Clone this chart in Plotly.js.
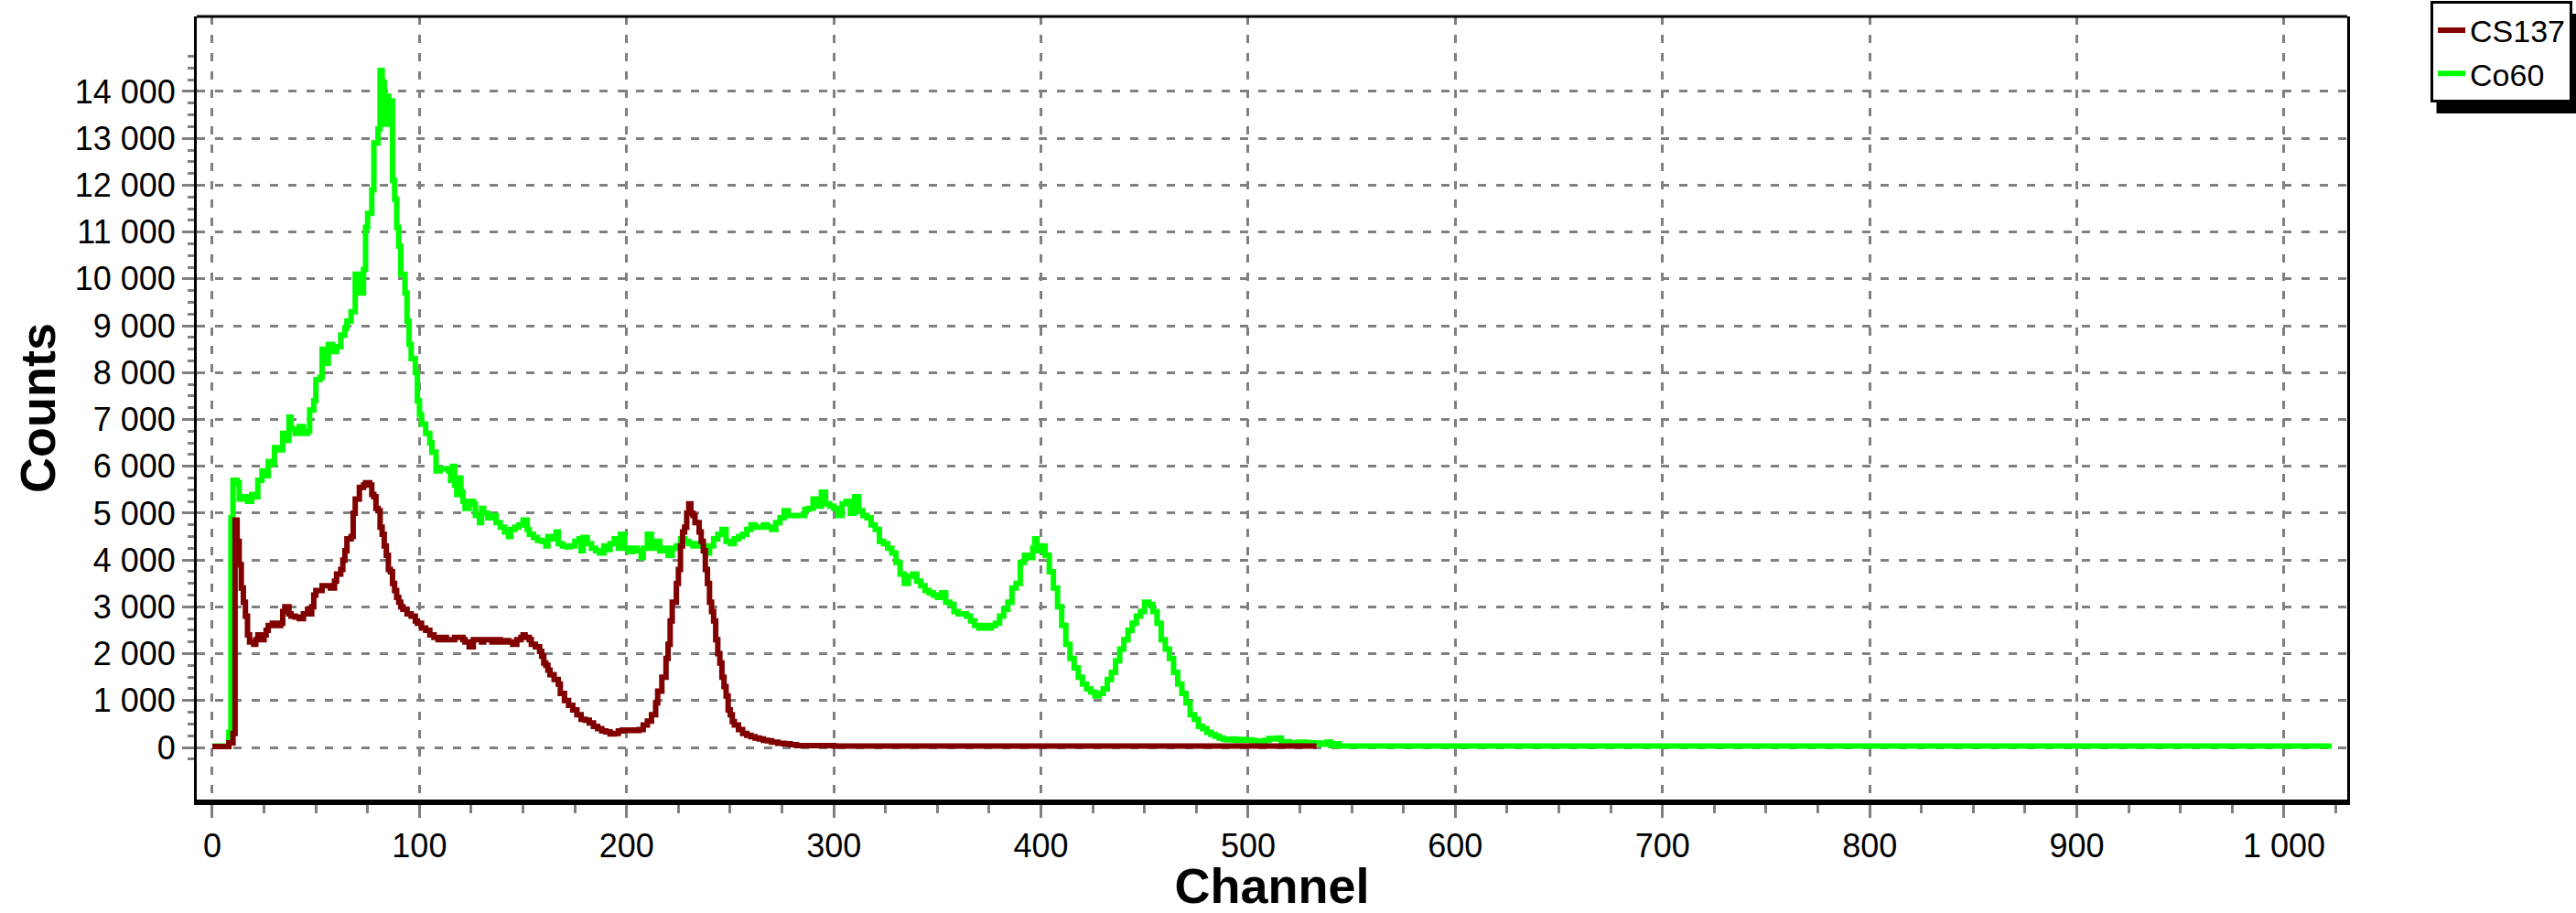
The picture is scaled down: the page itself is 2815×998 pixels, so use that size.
<!DOCTYPE html>
<html>
<head>
<meta charset="utf-8">
<script src="https://cdn.plot.ly/plotly-3.0.1.min.js"></script>
<style>html,body{margin:0;padding:0;background:#fff;}#chart{width:2815px;height:998px;}</style>
</head>
<body>
<div id="chart"></div>
<script>
// ---- Data (channel -> counts, histogram steps) ----
const co60Channels = [0,8,9,10,12,13,15,17,19,21,22,24,26,27,29,30,32,34,35,37,38,40,42,44,46,47,49,50,52,53,54,56,58,60,62,64,65,67,69,71,73,74,75,77,78,80,81,82,83,84,85,86,87,88,89,90,91,93,94,95,96,98,99,100,101,103,105,106,108,110,112,114,115,116,117,118,119,120,121,122,124,126,127,129,130,131,133,135,137,139,141,143,144,146,148,150,152,153,155,157,159,161,162,164,166,167,169,171,173,175,177,178,179,181,183,185,187,189,191,192,194,196,197,199,201,203,205,207,208,210,212,214,216,218,220,222,224,226,228,230,232,234,236,238,240,242,244,246,248,250,252,254,256,258,260,262,264,266,268,270,272,274,276,278,280,282,284,286,288,290,292,294,296,298,300,302,304,306,308,310,312,314,316,318,320,322,324,326,328,330,332,334,336,338,340,342,344,346,348,350,352,354,356,358,360,362,364,366,368,370,372,374,376,378,380,382,384,386,388,390,392,394,396,397,398,400,402,404,406,408,410,412,414,416,418,420,422,424,426,428,430,432,434,436,438,440,442,444,446,448,450,452,454,456,458,460,462,464,466,468,470,472,474,476,478,480,482,484,486,488,490,492,494,496,498,500,502,504,506,508,510,512,514,516,520,524,528,532,535,538,540,542,544,600,700,800,900,1000,1023];
const co60Counts = [30,320,4900,5700,5650,5300,5350,5250,5400,5350,5700,5900,5800,6100,6050,6400,6350,6700,6550,7050,6800,6700,6850,6700,6750,7200,7400,7850,7900,8500,8200,8600,8450,8550,8800,8950,9100,9300,10100,9700,10200,11100,11400,11900,12900,13200,14450,14200,13300,13900,13300,13800,12100,11700,11100,10700,10100,9700,9100,8600,8300,8000,7400,7100,6900,6700,6500,6300,5900,5950,5950,5900,5700,6000,5600,5400,5750,5450,5250,5100,5250,5200,4950,4800,5100,5000,4900,4950,4800,4700,4600,4500,4650,4700,4750,4850,4650,4550,4480,4420,4400,4300,4500,4450,4600,4350,4300,4280,4300,4400,4450,4200,4480,4350,4250,4200,4150,4300,4220,4350,4450,4250,4550,4250,4180,4250,4200,4050,4250,4550,4250,4400,4200,4250,4100,4250,4300,4450,4400,4350,4300,4350,4300,4150,4300,4450,4550,4650,4400,4350,4450,4500,4550,4650,4750,4700,4700,4750,4700,4650,4800,4900,5050,4950,4950,4950,4950,5080,5100,5300,5150,5450,5200,5150,5100,4950,5200,5250,5000,5350,5050,4950,4900,4750,4650,4400,4350,4250,4150,3950,3700,3500,3650,3700,3550,3450,3350,3300,3250,3200,3300,3100,3050,2900,2850,2850,2800,2700,2600,2550,2600,2550,2600,2650,2800,2950,3100,3400,3500,3950,4100,4050,4250,4450,4200,4300,4100,3750,3400,3000,2600,2200,1900,1700,1500,1350,1250,1180,1100,1150,1250,1450,1600,1850,2100,2300,2500,2650,2800,2900,3100,3050,2900,2650,2300,2100,1900,1600,1350,1150,950,700,600,450,400,320,280,240,200,170,160,180,150,170,150,160,140,130,80,150,190,180,200,120,100,110,100,95,70,110,40,80,30,30,28,28,28,28,28];

const cs137Channels = [0,8,10,11,12,13,14,15,16,17,18,20,21,22,24,25,26,27,29,31,33,34,35,37,38,40,42,44,46,47,48,49,50,52,53,55,57,59,60,62,63,64,65,67,68,69,71,73,74,76,77,78,79,80,81,82,83,84,85,86,87,88,89,90,91,92,94,96,98,99,101,103,105,107,109,111,113,115,117,119,121,122,124,126,128,130,131,133,135,137,139,141,143,145,147,149,150,151,153,154,156,158,159,160,161,162,163,165,167,168,170,172,174,176,178,180,182,184,186,188,190,192,194,196,198,200,202,204,206,208,210,212,214,215,217,219,220,221,222,224,225,226,227,228,229,230,231,232,233,235,236,237,238,239,240,241,242,243,244,245,246,247,248,249,250,251,252,254,256,258,260,262,264,266,268,270,273,276,279,282,300,400,500,533];
const cs137Counts = [20,100,300,4850,4400,3900,3400,3100,2800,2400,2250,2200,2300,2400,2300,2400,2500,2600,2650,2600,2650,2900,3000,2850,2800,2780,2750,2850,2950,2850,3000,3250,3350,3350,3450,3450,3400,3550,3700,3800,4000,4200,4450,4500,5000,5300,5550,5600,5650,5600,5400,5350,5100,5050,4700,4550,4300,4100,3800,3750,3500,3350,3200,3100,3000,2950,2850,2800,2700,2650,2550,2500,2400,2350,2300,2350,2300,2300,2350,2350,2300,2250,2150,2300,2300,2250,2300,2300,2250,2300,2250,2280,2250,2200,2300,2350,2400,2350,2300,2200,2150,2050,1950,1800,1750,1650,1550,1450,1350,1150,1000,900,800,700,600,580,520,450,400,350,330,290,300,350,370,360,370,360,380,480,560,700,950,1200,1500,1900,2200,2700,3100,3500,3800,4300,4600,4700,5000,5200,5000,4950,4800,4600,4400,4200,3800,3500,3100,2900,2700,2300,2000,1800,1500,1300,1100,800,700,550,480,380,300,260,230,200,180,150,140,110,90,80,60,40,30,30,30,30];

const seriesNames = ['CS137', 'Co60'];
const xTickVals = [0,100,200,300,400,500,600,700,800,900,1000];
const yTickVals = [0,1000,2000,3000,4000,5000,6000,7000,8000,9000,10000,11000,12000,13000,14000];

// minor tick positions
const yMinor = []; for (let v = -250; v <= 14750; v += 250) yMinor.push(v);
const xMinor = []; for (let v = 0; v <= 1025; v += 25) xMinor.push(v);

const traces = [
  { x: co60Channels, y: co60Counts, name: seriesNames[1], type: 'scatter', mode: 'lines',
    line: { color: '#00ff00', width: 6, shape: 'hv' } },
  { x: cs137Channels, y: cs137Counts, name: seriesNames[0], type: 'scatter', mode: 'lines',
    line: { color: '#800000', width: 6, shape: 'hv' } }
];

const gridDash = '9px,11px';
const layout = {
  width: 2815, height: 998,
  margin: { l: 215, r: 250, t: 18, b: 124, autoexpand: false },
  paper_bgcolor: '#ffffff', plot_bgcolor: '#ffffff',
  separators: '. ',
  font: { family: 'Liberation Sans, Arial, sans-serif', size: 36, color: '#000000' },
  showlegend: true,
  legend: { x: 1.1047, xanchor: 'right', y: 1.0193, yanchor: 'top', bgcolor: '#ffffff',
            bordercolor: '#000000', borderwidth: 3, traceorder: 'reversed',
            font: { size: 34, color: '#000000' }, itemwidth: 30, tracegroupgap: 0 },
  xaxis: {
    range: [-7.5, 1030.5], tickmode: 'array', tickvals: xTickVals, tickformat: ',d',
    ticks: 'outside', ticklen: 14, tickwidth: 3, tickcolor: '#808080',
    showline: true, linewidth: 6, linecolor: '#000000', mirror: false,
    showgrid: true, gridcolor: '#808080', gridwidth: 3, griddash: gridDash, zeroline: false,
    minor: { tickmode: 'array', tickvals: xMinor, ticks: 'outside', ticklen: 9, tickwidth: 3, tickcolor: '#808080', showgrid: false },
    title: { text: '<b>Channel</b>', font: { size: 54, color: '#000000' }, standoff: 24 },
    automargin: false
  },
  yaxis: {
    range: [-1113, 15601], tickmode: 'array', tickvals: yTickVals, tickformat: ',d',
    ticks: 'outside', ticklen: 13, tickwidth: 3, tickcolor: '#808080',
    showline: true, linewidth: 3, linecolor: '#000000', mirror: true,
    showgrid: true, gridcolor: '#808080', gridwidth: 3, griddash: gridDash, zeroline: false,
    minor: { tickmode: 'array', tickvals: yMinor, ticks: 'outside', ticklen: 7, tickwidth: 3, tickcolor: '#808080', showgrid: false },
    title: { text: '<b>Counts</b>', font: { size: 54, color: '#000000' }, standoff: 4 },
    automargin: false
  },
  shapes: [
    { type: 'line', xref: 'paper', yref: 'paper', x0: 0, x1: 1, y0: 1, y1: 1,
      line: { color: '#000000', width: 3 } },
    { type: 'rect', xref: 'paper', yref: 'paper', x0: 1.0415, x1: 1.1077, y0: 0.8762, y1: 1.0035,
      fillcolor: '#000000', line: { width: 0 }, layer: 'above' }
  ]
};

Plotly.newPlot('chart', traces, layout, { displayModeBar: false, staticPlot: true });
</script>
</body>
</html>
